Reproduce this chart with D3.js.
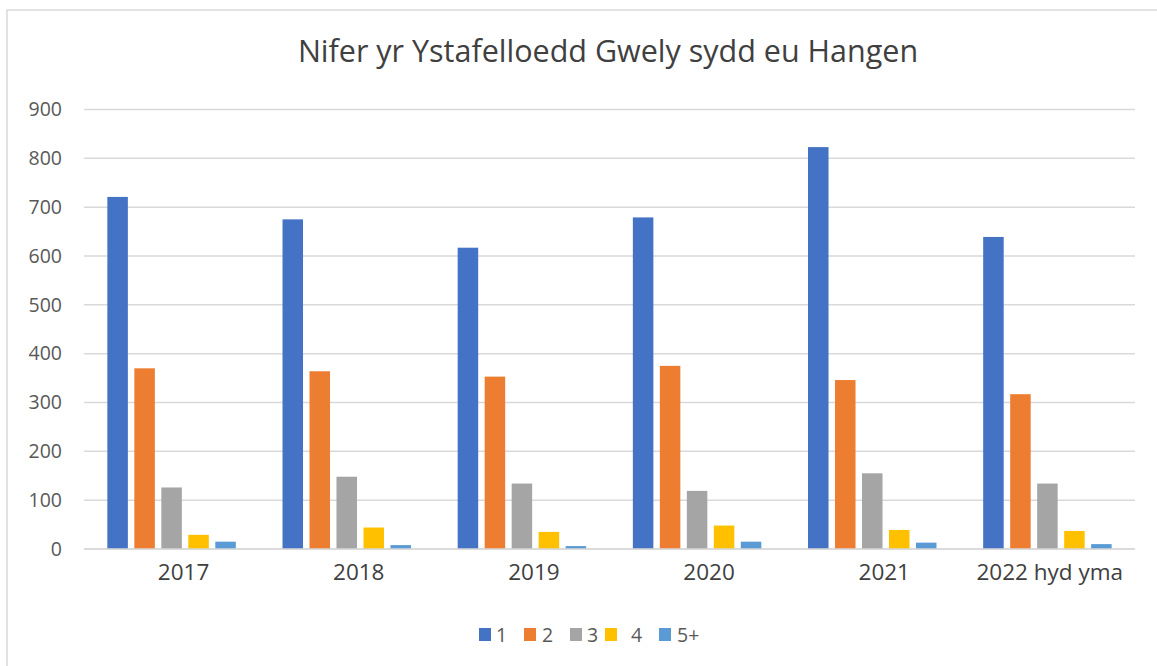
<!DOCTYPE html>
<html lang="cy">
<head>
<meta charset="UTF-8">
<title>Nifer yr Ystafelloedd Gwely sydd eu Hangen</title>
<script src="https://cdn.jsdelivr.net/npm/d3@7"></script>
<style>
  body { margin: 0; padding: 0; background: #fff; overflow: hidden; }
  svg { display: block; }
  text { font-family: "Open Sans", "Liberation Sans", sans-serif; }
</style>
</head>
<body>
<svg id="chart" width="1157" height="666"></svg>
<script>
// data
const years = ["2017", "2018", "2019", "2020", "2021", "2022 hyd yma"];
const seriesNames = ["1", "2", "3", "4", "5+"];
const rooms1 = [721, 675, 617, 679, 823, 639];
const rooms2 = [370, 364, 353, 375, 346, 317];
const rooms3 = [126, 148, 134, 119, 155, 134];
const rooms4 = [29, 44, 35, 48, 39, 37];
const rooms5 = [15, 8, 6, 15, 13, 10];
const yTicks = [0, 100, 200, 300, 400, 500, 600, 700, 800, 900];
const colours = ["#4472C4", "#ED7D31", "#A5A5A5", "#FFC000", "#5B9BD5"];

const allSeries = [rooms1, rooms2, rooms3, rooms4, rooms5];

const svg = d3.select("#chart");
const plotLeft = 84, plotRight = 1135, plotTop = 109.5, plotBottom = 549;

// chart border
svg.append("rect")
    .attr("x", 7).attr("y", 10)
    .attr("width", 1170).attr("height", 680)
    .attr("fill", "none")
    .attr("stroke", "#d9d9d9")
    .attr("stroke-width", 1.5);

svg.append("text")
    .attr("x", 608).attr("y", 62)
    .attr("text-anchor", "middle")
    .attr("font-size", 30.5)
    .attr("fill", "#404040")
    .text("Nifer yr Ystafelloedd Gwely sydd eu Hangen");

const x0 = d3.scaleBand().domain(years).range([plotLeft, plotRight]).padding(0);
const x1 = d3.scaleBand().domain(seriesNames)
    .range([0, x0.bandwidth()])
    .paddingInner(0.24).paddingOuter(0.865);
const y = d3.scaleLinear().domain([0, 900]).range([plotBottom, plotTop]);

// gridlines
svg.append("g")
  .selectAll("line")
  .data(yTicks)
  .join("line")
    .attr("x1", plotLeft).attr("x2", plotRight)
    .attr("y1", d => y(d)).attr("y2", d => y(d))
    .attr("stroke", "#d9d9d9")
    .attr("stroke-width", 1.5);

// y axis labels
const yAxis = svg.append("g")
    .attr("transform", `translate(${plotLeft - 22},0)`)
    .call(d3.axisLeft(y).tickValues(yTicks).tickSize(0).tickPadding(0));
yAxis.select(".domain").remove();
yAxis.selectAll("text")
    .attr("font-size", 19.5)
    .attr("fill", "#595959")
    .attr("font-family", "Open Sans, sans-serif");

// bars
years.forEach((yr, i) => {
  const g = svg.append("g").attr("transform", `translate(${x0(yr)},0)`);
  g.selectAll("rect")
    .data(seriesNames.map((s, j) => ({ s, v: allSeries[j][i], c: colours[j] })))
    .join("rect")
      .attr("x", d => x1(d.s))
      .attr("width", x1.bandwidth())
      .attr("y", d => y(d.v))
      .attr("height", d => y(0) - y(d.v))
      .attr("fill", d => d.c);
});

// x axis line redrawn over bar bottoms
svg.append("line")
    .attr("x1", plotLeft).attr("x2", plotRight)
    .attr("y1", y(0)).attr("y2", y(0))
    .attr("stroke", "#d9d9d9")
    .attr("stroke-width", 1.5);

// category labels sit a little right of centre, last one kept inside the plot
const xLabels = svg.append("g")
  .selectAll("text")
  .data(years)
  .join("text")
    .attr("text-anchor", "middle")
    .attr("y", 580)
    .attr("font-size", 22.5)
    .attr("fill", "#404040")
    .text(d => d)
    .attr("x", function(d) {
      const c = x0(d) + x0.bandwidth() / 2 + 12;
      const half = this.getComputedTextLength() / 2;
      return Math.min(c, 1123 - half);
    });

// legend
const legendX = [479, 524, 570, 605, 659];
const legendTextX = [496, 542, 587, 631, 677];
const legend = svg.append("g");
seriesNames.forEach((s, j) => {
  legend.append("rect")
      .attr("x", legendX[j]).attr("y", 628)
      .attr("width", 12).attr("height", 13)
      .attr("fill", colours[j]);
  legend.append("text")
      .attr("x", legendTextX[j]).attr("y", 642)
      .attr("font-size", 19.5)
      .attr("fill", "#595959")
      .text(s);
});
</script>
</body>
</html>
